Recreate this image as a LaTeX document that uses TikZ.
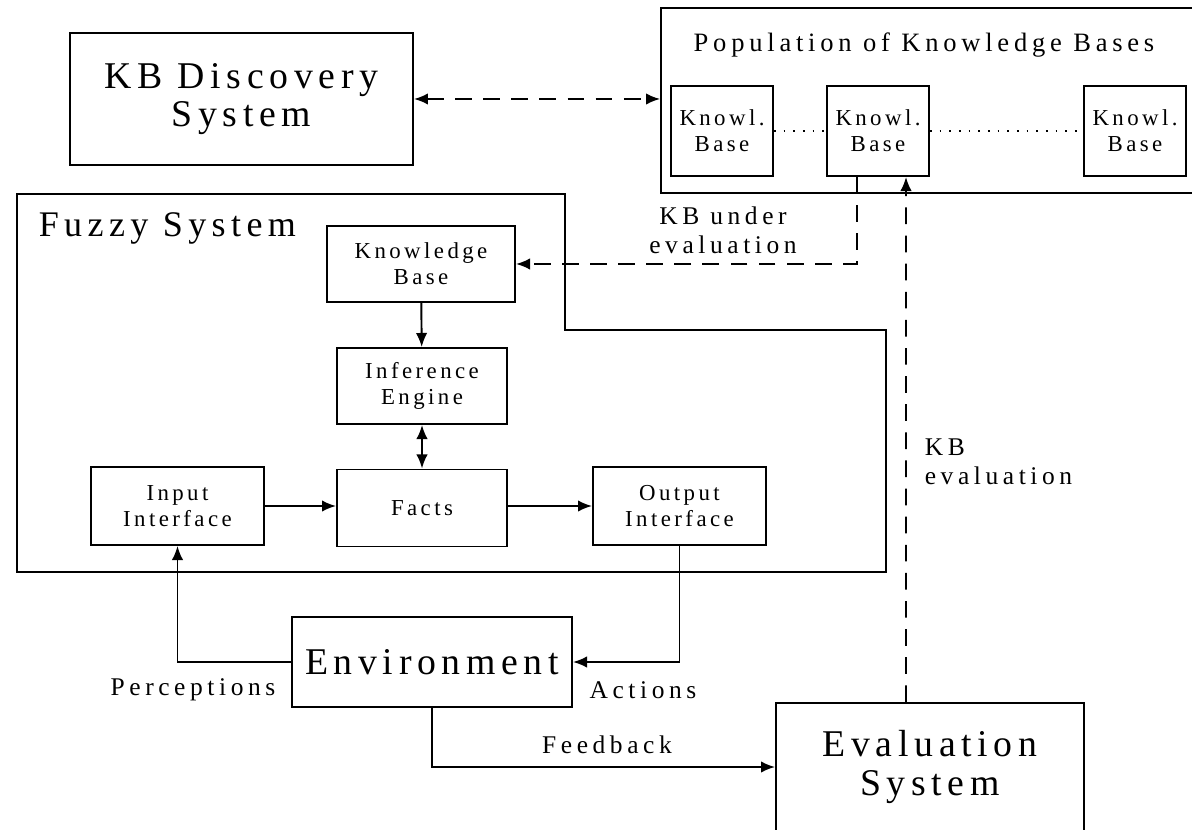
\documentclass[tikz,border=0pt]{standalone}
\usepackage{fontspec}
\setmainfont{Liberation Serif}[LetterSpace=15]
\newfontfamily\widefont{Liberation Serif}[LetterSpace=18]
\usetikzlibrary{arrows.meta}
\begin{document}
\begin{tikzpicture}[x=0.02cm, y=-0.02cm, line width=1.1pt,
  box/.style={draw, align=center, inner sep=2pt, font=\fontsize{13}{15}\selectfont},
  bigbox/.style={draw, align=center, font=\fontsize{21.5}{22}\selectfont},
  lbl/.style={align=center, font=\widefont\fontsize{14.5}{16.5}\selectfont},
  dashline/.style={dash pattern=on 9.5pt off 6.5pt},
  arr/.style={-{Latex[length=8pt,width=6.5pt]}},
  dblarr/.style={{Latex[length=8pt,width=6.5pt]}-{Latex[length=8pt,width=6.5pt]}}]
  \clip (0,0) rectangle (1192,830);
  \node[bigbox, minimum width=6.86cm, minimum height=2.64cm] (disc) at (241.5,99) {KB Discovery\\System};
  % population of knowledge bases
  \node[draw, minimum width=10.78cm, minimum height=3.7cm] (pop) at (930.5,100.5) {};
  \node[lbl, font=\widefont\fontsize{15.1}{17}\selectfont] (poptitle) at (924,45) {Population of Knowledge Bases};
  \node[box, minimum width=2.04cm, minimum height=1.8cm] (kb1) at (722,131) {Knowl.\\Base};
  \node[box, minimum width=2.04cm, minimum height=1.8cm] (kb2) at (878,131) {Knowl.\\Base};
  \node[box, minimum width=2.04cm, minimum height=1.8cm] (kb3) at (1135,131) {Knowl.\\Base};
  \draw[dash pattern=on 1pt off 4.5pt] (kb1) -- (kb2);
  \draw[dash pattern=on 1pt off 4.5pt] (kb2) -- (kb3);
  % fuzzy system
  \draw (17,194) -- (565,194) -- (565,330) -- (886,330) -- (886,572) -- (17,572) -- cycle;
  \node[anchor=west, font=\fontsize{20.5}{22}\selectfont] (fstitle) at (32,228) {Fuzzy System};
  \node[box, minimum width=3.76cm, minimum height=1.52cm] (kb) at (421,264) {Knowledge\\Base};
  \node[box, minimum width=3.4cm, minimum height=1.52cm] (inf) at (422,386) {Inference\\Engine};
  \node[box, minimum width=3.4cm, minimum height=1.54cm] (facts) at (422,508) {Facts};
  \node[box, minimum width=3.46cm, minimum height=1.56cm] (input) at (177.5,506) {Input\\Interface};
  \node[box, minimum width=3.46cm, minimum height=1.56cm] (output) at (679.5,506) {Output\\Interface};
  \draw[arr] (kb) -- (inf);
  \draw[dblarr] (inf) -- (facts);
  \draw[arr] (input) -- (facts.west |- input);
  \draw[arr] (facts.east |- output) -- (output);
  % environment and evaluation
  \node[bigbox, minimum width=5.6cm, minimum height=1.8cm] (env) at (432,662) {Environment};
  \node[bigbox, minimum width=6.16cm, minimum height=2.56cm] (eval) at (930,767) {Evaluation\\System};
  \draw[arr] (env.west) -| (input.south);
  \draw[arr] (output.south) |- (env.east);
  \draw[arr] (env.south) |- (eval.west);
  \node[lbl] (perc) at (193,690) {Perceptions};
  \node[lbl] (act) at (643,690) {Actions};
  \node[lbl] (feed) at (607,745) {Feedback};
  % dashed links
  \draw[dblarr, dashline] (disc.east) -- (pop.west |- disc.east);
  \draw[arr, dashline] ([xshift=-0.42cm]kb2.south) |- (kb.east);
  \draw[arr, dashline] ([xshift=-0.48cm]eval.north) -- ([xshift=0.56cm]kb2.south);
  \node[lbl] (under) at (723,230) {KB under\\evaluation};
  \node[lbl, anchor=west, align=left] (kbev) at (918,462) {KB\\evaluation};
\end{tikzpicture}
\end{document}
